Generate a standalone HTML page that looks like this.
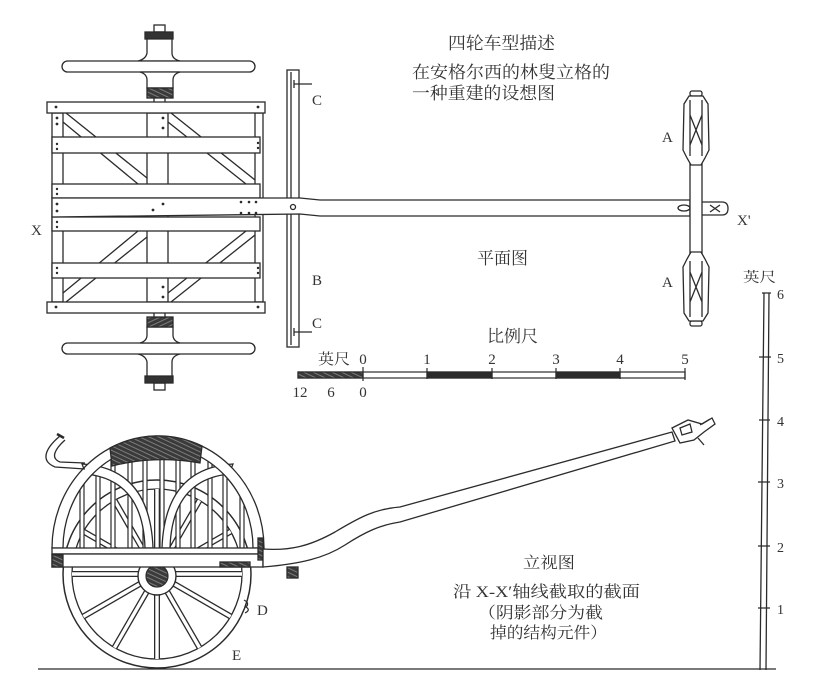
<!DOCTYPE html>
<html><head><meta charset="utf-8"><style>
html,body{margin:0;padding:0;background:#fff;}
svg{display:block;}
text{font-family:"Liberation Serif","Noto Serif CJK SC",serif;fill:#333;}
</style></head><body>
<svg width="818" height="687" viewBox="0 0 818 687" xmlns="http://www.w3.org/2000/svg">
<defs>
<pattern id="h" width="4" height="4" patternUnits="userSpaceOnUse" patternTransform="rotate(25)">
<rect width="4" height="4" fill="#3a3a3a"/><line x1="0" y1="1" x2="4" y2="1" stroke="#999" stroke-width="0.7"/>
</pattern>
<clipPath id="arch"><path d="M63 548 A95 102 0 0 1 253 548 Z"/></clipPath>
<g id="hub">
<rect x="154" y="25" width="11" height="7" fill="#fff"/>
<rect x="145" y="32" width="28" height="7" fill="#333"/>
<path d="M147 39 L147 53 Q146 59 138 61 L180 61 Q172 59 172 53 L172 39 Z" fill="#fff"/>
<rect x="62" y="61" width="193" height="11" rx="5.5" fill="#fff"/>
<path d="M140 72 Q147 74 147 80 L147 88 L173 88 L173 80 Q173 74 180 72 Z" fill="#fff"/>
<rect x="147" y="88" width="26" height="10" fill="url(#h)"/>
<rect x="154" y="98" width="11" height="7" fill="#fff"/>
</g>
<g id="fw">
<rect x="690" y="91" width="12" height="5" rx="2" fill="#fff"/>
<path d="M689 96 L703 96 L708 104 L709 150 L705 158 L701 165 L691 165 L687 158 L683 150 L684 104 Z" fill="#fff"/>
<path d="M690 100 L690 156 M702 100 L702 156 M690 115 L702 145 M702 115 L690 145" fill="none"/>
</g>
</defs>

<g stroke="#2b2b2b" stroke-width="1.3" fill="none">
<!-- PLAN: wheels -->
<use href="#hub"/>
<use href="#hub" transform="translate(0,415) scale(1,-1)"/>

<!-- frame longitudinal -->
<rect x="52" y="113" width="11" height="189" fill="#fff"/>
<rect x="255" y="113" width="8" height="189" fill="#fff"/>
<rect x="147" y="113" width="21" height="189" fill="#fff"/>
<!-- diagonals -->
<path d="M66 113 L147 178 M63 122 L138 184"/>
<path d="M171 113 L255 180 M168 122 L246 184"/>
<path d="M66 302 L147 237 M63 293 L138 231"/>
<path d="M171 302 L255 235 M168 293 L246 231"/>
<!-- rails -->
<rect x="47" y="102" width="218" height="11" fill="#fff"/>
<rect x="47" y="302" width="218" height="11" fill="#fff"/>
<rect x="52" y="137" width="208" height="16" fill="#fff"/>
<rect x="52" y="184" width="208" height="14" fill="#fff"/>
<rect x="52" y="217" width="208" height="14" fill="#fff"/>
<rect x="52" y="263" width="208" height="15" fill="#fff"/>
<!-- B bar -->
<rect x="287" y="70" width="12" height="277" fill="#fff"/>
<path d="M291 72 L291 345"/>
<path d="M294 80 L294 88 M294 84 L312 84 M294 328 L294 336 M294 332 L312 332"/>
<!-- pole plan -->
<path d="M52 198 L300 198 L320 200 L690 200 L690 216 L320 216 L300 214 L52 217 Z" fill="#fff"/>
<circle cx="293" cy="207" r="2.5"/>
<path d="M702 202 L722 202 Q728 202 728 208.5 Q728 215 722 215 L702 215" fill="#fff"/>
<ellipse cx="684" cy="208" rx="6" ry="3"/>
<path d="M710 205 L720 212 M720 205 L710 212"/>
<!-- front axle/wheels -->
<rect x="690" y="158" width="12" height="96" fill="#fff"/>
<use href="#fw"/>
<use href="#fw" transform="translate(0,417) scale(1,-1)"/>
</g>
<g fill="#2b2b2b">
<circle cx="57" cy="118" r="1.4"/><circle cx="57" cy="124" r="1.4"/>
<circle cx="57" cy="144" r="1.2"/><circle cx="57" cy="149" r="1.2"/>
<circle cx="57" cy="189" r="1.2"/><circle cx="57" cy="194" r="1.2"/>
<circle cx="57" cy="204" r="1.4"/><circle cx="57" cy="211" r="1.4"/>
<circle cx="57" cy="222" r="1.2"/><circle cx="57" cy="227" r="1.2"/>
<circle cx="57" cy="268" r="1.2"/><circle cx="57" cy="273" r="1.2"/>
<circle cx="163" cy="118" r="1.4"/><circle cx="163" cy="128" r="1.4"/>
<circle cx="163" cy="287" r="1.4"/><circle cx="163" cy="297" r="1.4"/>
<circle cx="163" cy="204" r="1.4"/><circle cx="153" cy="210" r="1.4"/>
<circle cx="241" cy="202" r="1.3"/><circle cx="249" cy="202" r="1.3"/><circle cx="256" cy="202" r="1.3"/>
<circle cx="241" cy="213" r="1.3"/><circle cx="249" cy="213" r="1.3"/><circle cx="256" cy="213" r="1.3"/>
<circle cx="258" cy="143" r="1.2"/><circle cx="258" cy="148" r="1.2"/>
<circle cx="258" cy="268" r="1.2"/><circle cx="258" cy="273" r="1.2"/>
<circle cx="258" cy="107" r="1.4"/><circle cx="258" cy="307" r="1.4"/>
<circle cx="56" cy="107" r="1.4"/><circle cx="56" cy="307" r="1.4"/>
</g>

<!-- scale bar -->
<g stroke="#2b2b2b" stroke-width="1.2" fill="none">
<rect x="298" y="372" width="387" height="6" fill="#fff"/>
<rect x="298" y="372" width="65" height="6" fill="url(#h)"/>
<rect x="427" y="372" width="65" height="6" fill="#2b2b2b"/>
<rect x="556" y="372" width="64" height="6" fill="#2b2b2b"/>
<path d="M363 367 L363 381 M427 368 L427 379 M492 368 L492 379 M556 368 L556 379 M620 368 L620 379 M685 368 L685 380"/>
</g>

<!-- ELEVATION: wheel -->
<g stroke="#2b2b2b" fill="none">
<circle cx="157" cy="574" r="94" stroke-width="1.5"/>
<circle cx="157" cy="574" r="85" stroke-width="1.3"/>
<g id="sp">
<path d="M176 574 L242 574" stroke-width="6"/>
<path d="M176 574 L242 574" stroke="#fff" stroke-width="3.4"/>
</g>
<use href="#sp" transform="rotate(30 157 574)"/>
<use href="#sp" transform="rotate(60 157 574)"/>
<use href="#sp" transform="rotate(90 157 574)"/>
<use href="#sp" transform="rotate(120 157 574)"/>
<use href="#sp" transform="rotate(150 157 574)"/>
<use href="#sp" transform="rotate(180 157 574)"/>
<use href="#sp" transform="rotate(210 157 574)"/>
<use href="#sp" transform="rotate(240 157 574)"/>
<use href="#sp" transform="rotate(270 157 574)"/>
<use href="#sp" transform="rotate(300 157 574)"/>
<use href="#sp" transform="rotate(330 157 574)"/>
<circle cx="157" cy="576" r="19" fill="#fff" stroke-width="1.4"/>
<circle cx="157" cy="576" r="11" fill="url(#h)" stroke-width="1.2"/>
<path d="M244 600 Q250 603 246 607 Q251 610 245 613" stroke-width="1.2"/>
</g>

<!-- body slats -->
<g clip-path="url(#arch)" stroke="#2b2b2b" stroke-width="1.2" fill="#fff">
<rect x="80" y="430" width="4" height="120"/>
<rect x="96" y="430" width="4" height="120"/>
<rect x="111" y="430" width="4" height="120"/>
<rect x="128" y="430" width="4" height="120"/>
<rect x="143" y="430" width="4" height="120"/>
<rect x="160" y="430" width="4" height="120"/>
<rect x="176" y="430" width="4" height="120"/>
<rect x="191" y="430" width="4" height="120"/>
<rect x="208" y="430" width="4" height="120"/>
<rect x="223" y="430" width="4" height="120"/>
<rect x="240" y="430" width="4" height="120"/>
</g>
<g stroke="#2b2b2b" stroke-width="1.3" fill="#fff">
<!-- gothic arches -->
<path d="M82 464 Q150 468 153 548 L145 548 Q143 480 86 474 Z"/>
<path d="M233 464 Q165 468 162 548 L170 548 Q172 480 229 474 Z"/>
<!-- arch band -->
<path d="M52 548 A106 112 0 0 1 264 548 L253 548 A95 102 0 0 0 63 548 Z"/>
<path d="M110 448 A106 112 0 0 1 202 446 L200 463 Q156 455 112 466 Z" fill="url(#h)"/>
<!-- handle -->
<path d="M60 436 C48 446 38 460 55 467 L85 469" fill="none"/>
<path d="M65 440 C55 449 50 458 60 462 L85 463" fill="none"/>
<path d="M57 434 L64 438" stroke-width="2.5"/>
<!-- floor -->
<rect x="52" y="548" width="211" height="6"/>
<rect x="52" y="554" width="211" height="13"/>
<rect x="52" y="555" width="11" height="12" fill="url(#h)"/>
<rect x="258" y="538" width="5" height="22" fill="url(#h)"/>
<rect x="220" y="562" width="30" height="5" fill="url(#h)"/>
<!-- pole -->
<path d="M263 549 C290 551 310 546 335 532 C360 517 375 509 400 507 L672 432 L675 441 L400 522 C380 525 365 532 345 545 C325 558 300 564 263 567 Z"/>
<rect x="287" y="567" width="11" height="11" fill="url(#h)"/>
<path d="M672 428 L688 420 L702 424 L712 418 L715 424 L704 432 L694 440 L680 443 Z"/>
<path d="M680 428 L690 424 L692 432 L682 435 Z M700 425 L710 419 M698 438 L704 445"/>
<!-- ground -->
<path d="M38 669 L776 669" fill="none"/>
<!-- vertical scale -->
<path d="M764 293 L760 670 M769 293 L766 670" fill="none"/>
<path d="M762 293 L771 293 M759 357 L771 357 M759 420 L770 420 M758 482 L770 482 M758 546 L770 546 M758 608 L770 608" fill="none"/>
</g>

<!-- TEXT -->
<g font-size="17">
<text x="448" y="49" textLength="107" lengthAdjust="spacingAndGlyphs">四轮车型描述</text>
<text x="412" y="78" textLength="198" lengthAdjust="spacingAndGlyphs">在安格尔西的林叟立格的</text>
<text x="412" y="99" textLength="143" lengthAdjust="spacingAndGlyphs">一种重建的设想图</text>
<text x="477" y="264" textLength="51" lengthAdjust="spacingAndGlyphs">平面图</text>
<text x="487" y="342" textLength="51" lengthAdjust="spacingAndGlyphs">比例尺</text>
</g>
<g font-size="15">
<text x="318" y="364" textLength="32" lengthAdjust="spacingAndGlyphs">英尺</text>
<text x="363" y="364" text-anchor="middle">0</text>
<text x="427" y="364" text-anchor="middle">1</text>
<text x="492" y="364" text-anchor="middle">2</text>
<text x="556" y="364" text-anchor="middle">3</text>
<text x="620" y="364" text-anchor="middle">4</text>
<text x="685" y="364" text-anchor="middle">5</text>
<text x="300" y="397" text-anchor="middle">12</text>
<text x="331" y="397" text-anchor="middle">6</text>
<text x="363" y="397" text-anchor="middle">0</text>
<text x="662" y="142">A</text>
<text x="662" y="287">A</text>
<text x="737" y="225">X'</text>
<text x="31" y="235">X</text>
<text x="312" y="105">C</text>
<text x="312" y="328">C</text>
<text x="312" y="285">B</text>
<text x="257" y="615">D</text>
<text x="232" y="660">E</text>
</g>
<g font-size="16">
<text x="523" y="568" textLength="52" lengthAdjust="spacingAndGlyphs">立视图</text>
<text x="453" y="597" textLength="187" lengthAdjust="spacingAndGlyphs">沿 X-X′轴线截取的截面</text>
<text x="478" y="618" textLength="125" lengthAdjust="spacingAndGlyphs">（阴影部分为截</text>
<text x="490" y="638" textLength="117" lengthAdjust="spacingAndGlyphs">掉的结构元件）</text>
</g>
<g font-size="14">
<text x="743" y="282" textLength="33" lengthAdjust="spacingAndGlyphs">英尺</text>
<text x="777" y="299">6</text>
<text x="777" y="363">5</text>
<text x="777" y="426">4</text>
<text x="777" y="488">3</text>
<text x="777" y="552">2</text>
<text x="777" y="614">1</text>
</g>
</svg>
</body></html>
